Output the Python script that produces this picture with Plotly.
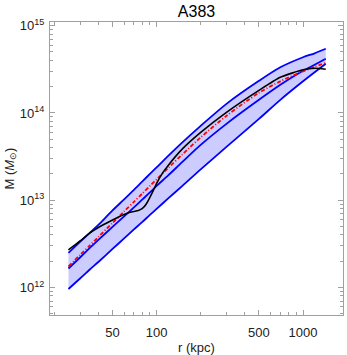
import plotly.graph_objects as go

# radius samples (kpc)
r_band = [25, 30, 35, 40, 50, 60, 70, 80, 90, 100, 120, 150, 200, 300, 500, 700, 1000, 1200, 1430]

m_upper = [2.49e12, 3.33e12, 4.22e12, 5.21e12, 7.64e12, 1.021e13, 1.312e13, 1.644e13, 2.004e13, 2.377e13,
           3.221e13, 4.603e13, 7.112e13, 1.271e14, 2.333e14, 3.334e14, 4.345e14, 4.819e14, 5.433e14]
m_mid = [1.652e12, 2.208e12, 2.838e12, 3.507e12, 4.943e12, 6.52e12, 8.27e12, 1.021e13, 1.228e13, 1.459e13,
         1.924e13, 2.749e13, 4.307e13, 7.5e13, 1.413e14, 2.099e14, 3.04e14, 3.563e14, 4.17e14]
m_lower = [9.61e11, 1.268e12, 1.608e12, 1.96e12, 2.765e12, 3.648e12, 4.625e12, 5.637e12, 6.78e12, 7.95e12,
           1.049e13, 1.459e13, 2.255e13, 4.085e13, 8.55e13, 1.413e14, 2.303e14, 2.923e14, 3.656e14]
m_red = [1.741e12, 2.36e12, 3.033e12, 3.795e12, 5.49e12, 7.44e12, 9.56e12, 1.197e13, 1.459e13, 1.733e13,
         2.346e13, 3.35e13, 5.25e13, 9.26e13, 1.701e14, 2.303e14, 3.0e14, 3.38e14, 3.755e14]

r_black = [25, 30, 35, 40, 45, 50, 55, 60, 65, 70, 75, 80, 85, 90, 95, 100, 110, 120, 150, 200,
           300, 500, 700, 1000, 1200, 1430]
m_black = [2.692e12, 3.414e12, 4.217e12, 4.877e12, 5.42e12, 5.943e12, 6.435e12, 6.875e12, 7.245e12, 7.44e12,
           7.64e12, 8.05e12, 9.07e12, 1.077e13, 1.295e13, 1.559e13, 2.056e13, 2.506e13, 3.875e13, 5.99e13,
           1.016e14, 1.816e14, 2.561e14, 3.12e14, 3.247e14, 3.162e14]

x_tickvals = [50, 100, 500, 1000]
x_ticktext = ["50", "100", "500", "1000"]
x_minor = [20, 30, 40, 60, 70, 80, 90, 200, 300, 400, 600, 700, 800, 900]
y_tickvals = [1e12, 1e13, 1e14, 1e15]
y_ticktext = ["10<sup>12</sup>", "10<sup>13</sup>", "10<sup>14</sup>", "10<sup>15</sup>"]
y_minor = [m * 10 ** e for e in (11, 12, 13, 14) for m in range(2, 10)]

BLUE = "#0000ff"
FRAME = "#a0a0a0"
FONT = "Liberation Sans, Arial, sans-serif"
W, H = 347, 355

fig = go.Figure()
fig.add_trace(go.Scatter(x=r_band, y=m_lower, mode="lines",
                         line=dict(color=BLUE, width=1.8, shape="spline", smoothing=0.8), showlegend=False))
fig.add_trace(go.Scatter(x=r_band, y=m_upper, mode="lines", fill="tonexty",
                         fillcolor="rgba(0,0,255,0.2)",
                         line=dict(color=BLUE, width=1.8, shape="spline", smoothing=0.8), showlegend=False))
fig.add_trace(go.Scatter(x=r_band, y=m_mid, mode="lines",
                         line=dict(color=BLUE, width=1.8, shape="spline", smoothing=0.8), showlegend=False))
fig.add_trace(go.Scatter(x=r_band, y=m_red, mode="lines",
                         line=dict(color="#ff0000", width=1.8, dash="4px,2px,1px,2px", shape="spline",
                                   smoothing=0.8),
                         showlegend=False))
fig.add_trace(go.Scatter(x=r_black, y=m_black, mode="lines",
                         line=dict(color="#000000", width=1.6, shape="spline", smoothing=0.6),
                         showlegend=False))

fig.update_layout(
    width=W, height=H,
    margin=dict(l=50, r=4, t=22, b=40),
    paper_bgcolor="white", plot_bgcolor="white",
    font=dict(family=FONT, size=13, color="#222"),
    title=dict(text="A383", x=0.5, xref="paper", y=1 - 11 / H, yref="container",
               xanchor="center", yanchor="middle", font=dict(size=16, color="#000")),
    annotations=[
        dict(text="r (kpc)", xref="paper", yref="paper", x=0.5, y=-(347 - 315) / 293,
             xanchor="center", yanchor="middle", showarrow=False,
             font=dict(size=13, color="#222")),
        dict(text="M (<i>M</i><sub>⊙</sub>)", xref="paper", yref="paper",
             x=-(50 - 10) / 293, y=0.5, textangle=-90,
             xanchor="center", yanchor="middle", showarrow=False,
             font=dict(size=13, color="#222")),
    ],
)
fig.update_xaxes(
    type="log", range=[1.272, 3.273], automargin=False,
    tickmode="array", tickvals=x_tickvals, ticktext=x_ticktext,
    ticks="inside", ticklen=5, tickcolor=FRAME, tickwidth=1,
    minor=dict(tickmode="array", tickvals=x_minor, ticks="inside", ticklen=3, tickcolor=FRAME),
    showline=True, linecolor=FRAME, linewidth=1, mirror="ticks",
    showgrid=False, zeroline=False, ticklabelstandoff=5,
    tickfont=dict(size=13, color="#222"),
)
fig.update_yaxes(
    type="log", range=[11.685, 15.042], automargin=False,
    tickmode="array", tickvals=y_tickvals, ticktext=y_ticktext,
    ticks="inside", ticklen=5, tickcolor=FRAME, tickwidth=1,
    minor=dict(tickmode="array", tickvals=y_minor, ticks="inside", ticklen=3, tickcolor=FRAME),
    showline=True, linecolor=FRAME, linewidth=1, mirror="ticks",
    showgrid=False, zeroline=False, ticklabelstandoff=2,
    tickfont=dict(size=13, color="#222"),
)

fig.write_html("out.html", config={"displayModeBar": False},
               post_script="document.body.style.margin='0';document.body.style.overflow='hidden';")
